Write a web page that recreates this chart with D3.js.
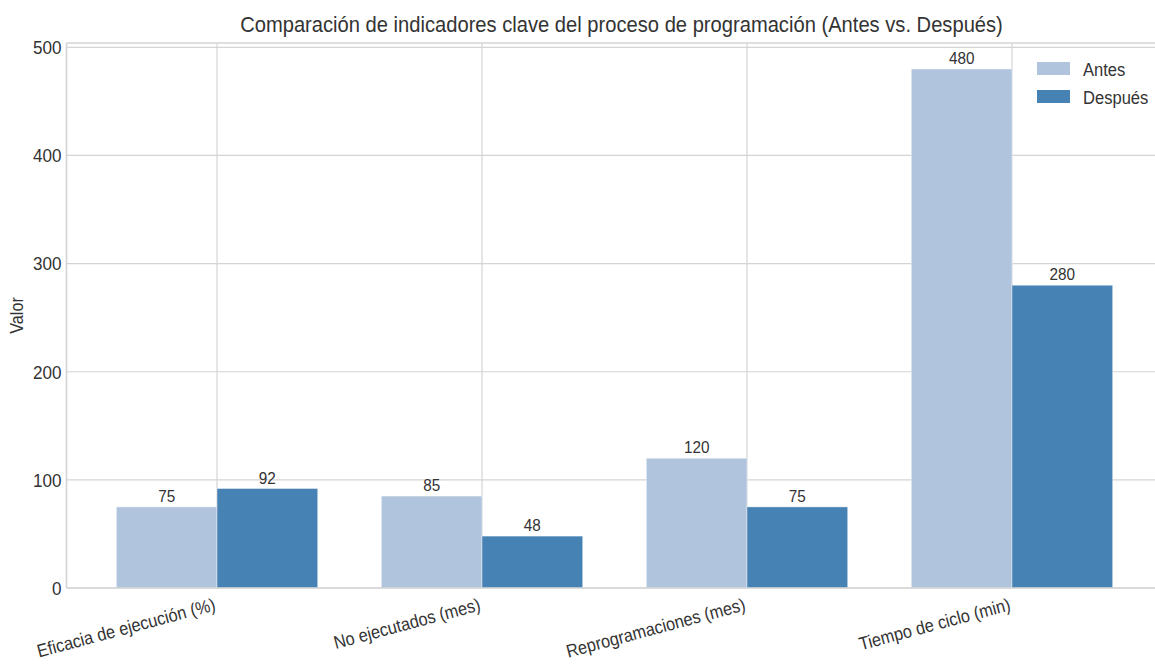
<!DOCTYPE html>
<html>
<head>
<meta charset="utf-8">
<script src="https://cdn.jsdelivr.net/npm/d3@7"></script>
<style>
  html, body { margin: 0; padding: 0; background: #ffffff; }
  svg { display: block; font-family: "Liberation Sans", Arial, sans-serif; }
</style>
</head>
<body>
<svg id="chart" width="1155" height="664"></svg>
<script>
// Indicadores del proceso de programación
const categories = [
  "Eficacia de ejecución (%)",
  "No ejecutados (mes)",
  "Reprogramaciones (mes)",
  "Tiempo de ciclo (min)"
];
const seriesNames = ["Antes", "Después"];
const antes = [75, 85, 120, 480];
const despues = [92, 48, 75, 280];
const yTicks = [0, 100, 200, 300, 400, 500];
const titleText = "Comparación de indicadores clave del proceso de programación (Antes vs. Después)";
const yLabel = "Valor";

const colors = { "Antes": "#b0c4de", "Después": "#4682b4" };
const barWidth = 0.38;
const narrow = 0.9;   // horizontal squeeze for a condensed look

const svg = d3.select("#chart");
const plot = { left: 66.5, right: 1162.5, top: 43, bottom: 588 };

const x = d3.scaleLinear()
  .domain([-0.568, categories.length - 1 + 0.568])
  .range([plot.left, plot.right]);
const y = d3.scaleLinear()
  .domain([0, 504])
  .range([plot.bottom, plot.top]);

const gridColor = "#d4d4d4";
const textColor = "#333333";

// condensed text helper: places text at (tx, ty), optional rotation
function label(parent, tx, ty, str, size, anchor, rot) {
  const t = parent.append("text")
    .attr("transform", `translate(${tx},${ty})` + (rot ? ` rotate(${rot})` : "") + ` scale(${narrow},1)`)
    .attr("text-anchor", anchor || "start")
    .attr("font-size", size)
    .attr("fill", textColor)
    .text(str);
  return t;
}

// grid lines
const grid = svg.append("g");
grid.selectAll("line.h").data(yTicks).join("line")
  .attr("x1", plot.left).attr("x2", plot.right)
  .attr("y1", d => y(d)).attr("y2", d => y(d))
  .attr("stroke", gridColor).attr("stroke-width", 1.2);
grid.selectAll("line.v").data(categories.map((c, i) => i)).join("line")
  .attr("x1", d => x(d)).attr("x2", d => x(d))
  .attr("y1", plot.top).attr("y2", plot.bottom)
  .attr("stroke", gridColor).attr("stroke-width", 1.2);

// bars with value labels
const barsG = svg.append("g");
const labelsG = svg.append("g");
seriesNames.forEach((name, s) => {
  const vals = s === 0 ? antes : despues;
  const offset = s === 0 ? -barWidth / 2 : barWidth / 2;
  barsG.selectAll("rect.s" + s).data(vals).join("rect")
    .attr("x", (d, i) => x(i + offset - barWidth / 2))
    .attr("width", (d, i) => x(i + offset + barWidth / 2) - x(i + offset - barWidth / 2))
    .attr("y", d => y(d))
    .attr("height", d => y(0) - y(d))
    .attr("fill", colors[name])
    .attr("stroke", "#ffffff")
    .attr("stroke-opacity", 0.5)
    .attr("stroke-width", 0.8);
  vals.forEach((d, i) => {
    label(labelsG, x(i + offset), y(d) - 5, d, 17, "middle");
  });
});

// frame (spines)
svg.append("line").attr("x1", plot.left).attr("x2", plot.right)
  .attr("y1", plot.bottom).attr("y2", plot.bottom)
  .attr("stroke", gridColor).attr("stroke-width", 1.6);
svg.append("line").attr("x1", plot.left).attr("x2", plot.right)
  .attr("y1", plot.top).attr("y2", plot.top)
  .attr("stroke", gridColor).attr("stroke-width", 1.6);
svg.append("line").attr("x1", plot.left).attr("x2", plot.left)
  .attr("y1", plot.top).attr("y2", plot.bottom)
  .attr("stroke", gridColor).attr("stroke-width", 1.6);

// y tick labels
const yt = svg.append("g");
yTicks.forEach(d => {
  label(yt, plot.left - 5, y(d) + 6.8, d, 19, "end");
});

// x tick labels (rotated)
const xt = svg.append("g");
categories.forEach((c, i) => {
  label(xt, x(i) - 4, plot.bottom + 9, c, 18.2, "end", -15)
    .attr("dominant-baseline", "hanging");
});

// axis label
label(svg, 23, (plot.top + plot.bottom) / 2, yLabel, 18, "middle", -90);

// title
label(svg, 621.5, 32, titleText, 22.4, "middle");

// legend
const legend = svg.append("g").attr("transform", "translate(1037,62)");
seriesNames.forEach((name, s) => {
  const g = legend.append("g").attr("transform", `translate(0,${s * 28})`);
  g.append("rect").attr("width", 33).attr("height", 13).attr("fill", colors[name]);
  label(g, 46, 13.5, name, 18.4, "start");
});
</script>
</body>
</html>
